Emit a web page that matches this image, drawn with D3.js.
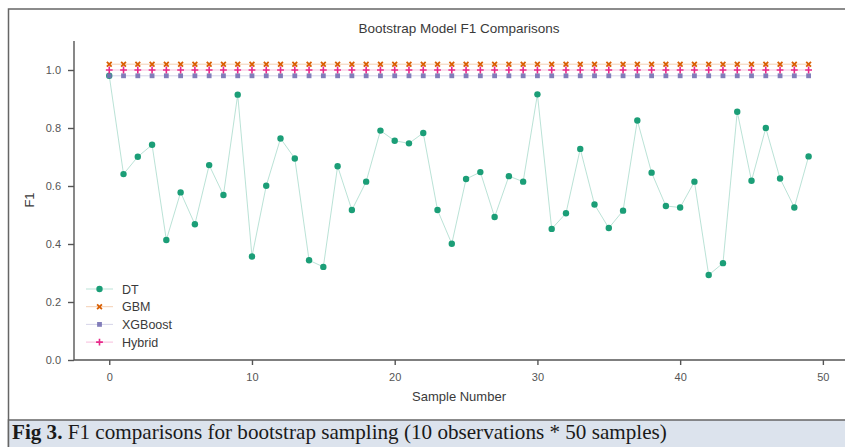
<!DOCTYPE html>
<html lang="en">
<head>
    <meta charset="UTF-8">
    <title>Bootstrap Model F1 Comparisons</title>
    <script src="https://d3js.org/d3.v7.min.js"></script>
    <style>
        body { margin: 0; background: #fff; }
        svg { display: block; }
        .tick text { font-family: "Liberation Sans", Arial, sans-serif; font-size: 11px; fill: #555; }
        .axis path, .axis line { stroke: #555; stroke-width: 1.4; }
        .title, .axis-label, .legend text { font-family: "Liberation Sans", Arial, sans-serif; fill: #3a3a3a; }
    </style>
</head>
<body>
    <svg id="chart" width="845" height="447"></svg>

    <script>
        const samples = d3.range(50);
        const dtF1 = [0.98, 0.641, 0.701, 0.742, 0.414, 0.578, 0.468, 0.672, 0.569, 0.915,
                      0.357, 0.601, 0.764, 0.695, 0.344, 0.321, 0.668, 0.517, 0.615, 0.791,
                      0.756, 0.747, 0.783, 0.517, 0.401, 0.624, 0.648, 0.493, 0.634, 0.615,
                      0.916, 0.452, 0.506, 0.728, 0.536, 0.455, 0.515, 0.826, 0.646, 0.531,
                      0.526, 0.615, 0.293, 0.334, 0.856, 0.618, 0.800, 0.626, 0.526, 0.702];
        const gbmF1 = samples.map(() => 1.02);
        const xgbF1 = samples.map(() => 0.98);
        const hybridF1 = samples.map(() => 1.0);
        const xTicks = [0, 10, 20, 30, 40, 50];
        const yTicks = [0.0, 0.2, 0.4, 0.6, 0.8, 1.0];

        const series = [
            { name: "DT", values: dtF1, color: "#1b9e77", marker: "circle" },
            { name: "GBM", values: gbmF1, color: "#d95f02", marker: "x" },
            { name: "XGBoost", values: xgbF1, color: "#7570b3", marker: "square" },
            { name: "Hybrid", values: hybridF1, color: "#e7298a", marker: "plus" }
        ];

        const svg = d3.select("#chart");

        // outer frame + caption box
        svg.append("rect").attr("x", 8.5).attr("y", 9).attr("width", 845).attr("height", 450)
            .attr("fill", "#fff").attr("stroke", "#666").attr("stroke-width", 1.5);
        svg.append("rect").attr("x", 8.5).attr("y", 420).attr("width", 845).attr("height", 40)
            .attr("fill", "#dce3ed").attr("stroke", "#666").attr("stroke-width", 1.5);

        const x = d3.scaleLinear().domain([-2.47, 51.55]).range([74, 845]);
        const y = d3.scaleLinear().domain([0, 1.1]).range([360, 41]);

        svg.append("g").attr("class", "axis")
            .attr("transform", "translate(0,360)")
            .call(d3.axisBottom(x).tickValues(xTicks).tickSize(5).tickPadding(8).tickFormat(d3.format("d")));

        svg.append("g").attr("class", "axis")
            .attr("transform", "translate(74,0)")
            .call(d3.axisLeft(y).tickValues(yTicks).tickSize(6).tickPadding(7).tickFormat(d3.format(".1f")));

        svg.selectAll(".axis .domain").attr("d", function() {
            return this.parentNode.getAttribute("transform") === "translate(0,360)" ? "M74,0H845" : "M0,360V41";
        });

        svg.append("text").attr("class", "title")
            .attr("x", 459).attr("y", 33).attr("text-anchor", "middle")
            .style("font-size", "13.5px").text("Bootstrap Model F1 Comparisons");

        svg.append("text").attr("class", "axis-label")
            .attr("x", 459).attr("y", 401).attr("text-anchor", "middle")
            .style("font-size", "13px").text("Sample Number");

        svg.append("text").attr("class", "axis-label")
            .attr("transform", "translate(34,200) rotate(-90)").attr("text-anchor", "middle")
            .style("font-size", "13px").text("F1");

        function drawMarker(g, type, color) {
            if (type === "circle") {
                g.append("circle").attr("r", 3.2).attr("fill", color);
            } else if (type === "square") {
                g.append("rect").attr("x", -2.4).attr("y", -2.4).attr("width", 4.8).attr("height", 4.8).attr("fill", color).attr("fill-opacity", 0.9);
            } else if (type === "x") {
                g.append("path").attr("d", "M-2.4,-2.4L2.4,2.4M-2.4,2.4L2.4,-2.4")
                    .attr("stroke", color).attr("stroke-width", 1.8);
            } else {
                g.append("path").attr("d", "M-3.4,0H3.4M0,-3.4V3.4")
                    .attr("stroke", color).attr("stroke-width", 1.6);
            }
        }

        const line = d3.line().x((d, i) => x(i)).y(d => y(d));

        series.forEach(s => {
            svg.append("path").datum(s.values)
                .attr("fill", "none").attr("stroke", s.color)
                .attr("stroke-opacity", 0.3).attr("stroke-width", 1)
                .attr("d", line);
            s.values.forEach((v, i) => {
                const g = svg.append("g").attr("transform", `translate(${x(i)},${y(v)})`);
                drawMarker(g, s.marker, s.color);
            });
        });

        // legend
        const legend = svg.append("g").attr("class", "legend");
        series.forEach((s, i) => {
            const ly = 289 + i * 17.7;
            legend.append("line").attr("x1", 86).attr("x2", 113).attr("y1", ly).attr("y2", ly)
                .attr("stroke", s.color).attr("stroke-opacity", 0.3).attr("stroke-width", 1);
            drawMarker(legend.append("g").attr("transform", `translate(99.5,${ly})`), s.marker, s.color);
            legend.append("text").attr("x", 122).attr("y", ly + 4.5)
                .style("font-size", "12.5px").text(s.name);
        });

        // caption
        const cap = svg.append("text").attr("x", 12).attr("y", 439)
            .style("font-family", "'Liberation Serif', 'Times New Roman', serif")
            .style("font-size", "18px").attr("fill", "#1a1a1a");
        cap.append("tspan").style("font-weight", "bold").text("Fig 3.");
        cap.append("tspan").text(" F1 comparisons for bootstrap sampling (10 observations * 50 samples)");
        const w = cap.node().getComputedTextLength();
        cap.style("font-size", (18 * 655 / w).toFixed(2) + "px");
    </script>
</body>
</html>
